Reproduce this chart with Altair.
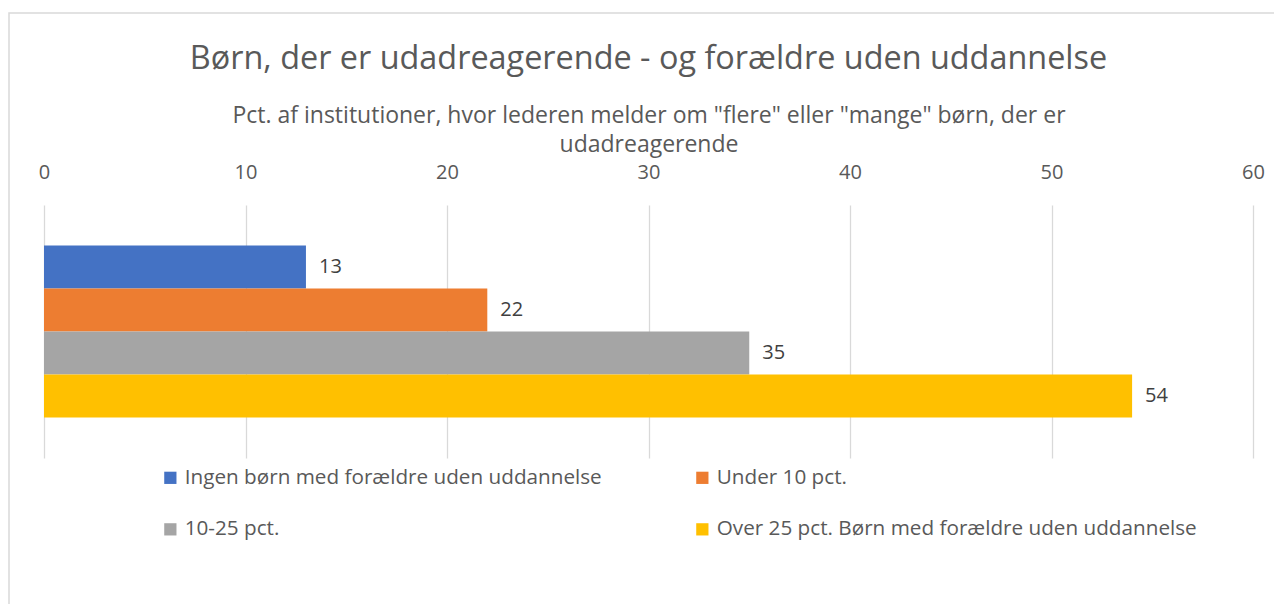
import altair as alt
import pandas as pd

series = [
    "Ingen børn med forældre uden uddannelse",
    "Under 10 pct.",
    "10-25 pct.",
    "Over 25 pct. Børn med forældre uden uddannelse",
]
values = [13, 22, 35, 54]
colors = ["#4472C4", "#ED7D31", "#A5A5A5", "#FFC000"]
x_ticks = [0, 10, 20, 30, 40, 50, 60]

FONT = "Open Sans"
TXT = "#595959"

df = pd.DataFrame({"serie": series, "pct": values})

base = alt.Chart(df).encode(
    y=alt.Y(
        "serie:N",
        sort=series,
        axis=None,
        scale=alt.Scale(paddingInner=0, paddingOuter=0.94),
    )
)

bars = base.mark_bar().encode(
    x=alt.X(
        "pct:Q",
        scale=alt.Scale(domain=[0, 60], nice=False),
        axis=alt.Axis(
            orient="top",
            values=x_ticks,
            grid=True,
            gridColor="#d9d9d9",
            gridWidth=1.3,
            domain=False,
            ticks=False,
            tickSize=0,
            labelFlush=False,
            labelFontSize=20,
            labelColor=TXT,
            labelFont=FONT,
            labelPadding=23,
            title=[
                'Pct. af institutioner, hvor lederen melder om "flere" eller "mange" børn, der er',
                "udadreagerende",
            ],
            titleFontSize=23,
            titleFont=FONT,
            titleFontWeight="normal",
            titleColor=TXT,
            titleLineHeight=29,
            titlePadding=6,
        ),
    ),
    color=alt.Color(
        "serie:N",
        scale=alt.Scale(domain=series, range=colors),
        legend=alt.Legend(
            title=None,
            orient="none",
            legendX=116,
            legendY=262,
            padding=0,
            direction="horizontal",
            columns=2,
            columnPadding=90,
            rowPadding=30,
            symbolType="square",
            symbolSize=150,
            symbolStrokeWidth=0,
            symbolOpacity=1,
            labelFontSize=20.7,
            labelFont=FONT,
            labelColor=TXT,
            labelLimit=700,
            labelOffset=4,
        ),
    ),
)

labels = base.mark_text(
    align="left", baseline="middle", dx=13, fontSize=20, font=FONT, color="#404040"
).encode(x="pct:Q", text="pct:Q")

border = (
    alt.Chart(pd.DataFrame({"b": [0]}))
    .mark_rect(fill=None, stroke="#d9d9d9", strokeWidth=1.5)
    .encode(
        x=alt.value(-35),
        x2=alt.value(1300),
        y=alt.value(-192),
        y2=alt.value(600),
    )
)

chart = (
    alt.layer(border, bars, labels)
    .properties(
        width=1209,
        height=253,
        autosize=alt.AutoSizeParams(type="none"),
        padding={"left": 36, "top": 197, "right": 21, "bottom": 146},
        title=alt.TitleParams(
            "Børn, der er udadreagerende - og forældre uden uddannelse",
            fontSize=32.4,
            font=FONT,
            fontWeight="normal",
            color=TXT,
            anchor="middle",
            offset=-63,
        ),
    )
    .configure_view(stroke=None)
)

chart.save("out.html", embed_options={"renderer": "svg", "actions": False})
